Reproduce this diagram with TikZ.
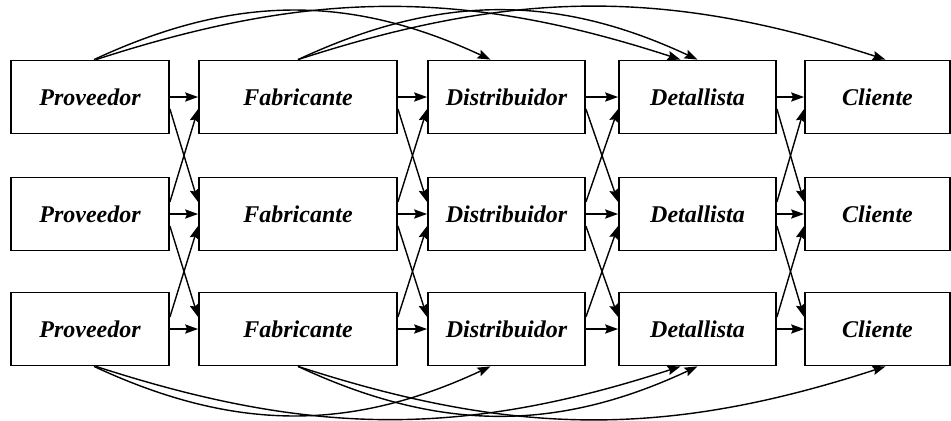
\documentclass[tikz,border=0pt]{standalone}
\usepackage{fontspec}
\setmainfont{Liberation Serif}
\usetikzlibrary{arrows.meta}
\tikzset{
  caja/.style={draw, line width=0.9pt, minimum height=36.5pt, inner sep=0pt,
    font=\bfseries\itshape\fontsize{12}{14}\selectfont},
  flecha/.style={line width=0.7pt, -{Stealth[length=6.5pt,width=4.6pt,inset=1pt]}}
}
\begin{document}
\begin{tikzpicture}[x=0.5pt,y=0.5pt]
        \useasboundingbox (0,0) rectangle (951,420);
        \foreach \r/\y in {1/323,2/206,3/91} {
            \node[caja, minimum width=79pt] (prov\r) at (90,\y) {Proveedor};
            \node[caja, minimum width=99pt] (fab\r) at (298,\y) {Fabricante};
            \node[caja, minimum width=78.5pt] (dist\r) at (506.5,\y) {Distribuidor};
            \node[caja, minimum width=78.5pt] (det\r) at (697.5,\y) {Detallista};
            \node[caja, minimum width=72.5pt] (cli\r) at (877.5,\y) {Cliente};
        }
        \foreach \a/\b in {prov/fab,fab/dist,dist/det,det/cli} {
            \foreach \r in {1,2,3} \draw[flecha] (\a\r.east) -- (\b\r.west);
            \foreach \r/\s in {1/2,2/3} {
                \draw[flecha] ([yshift=-6pt]\a\r.east) -- ([yshift=6pt]\b\s.west);
                \draw[flecha] ([yshift=6pt]\a\s.east) -- ([yshift=-6pt]\b\r.west);
            }
        }
        \draw[flecha] ([xshift=2pt]prov1.north) to[out=25,in=155] ([xshift=-8pt]dist1.north);
        \draw[flecha] ([xshift=3pt]prov1.north) to[out=18,in=162] ([xshift=-8.5pt]det1.north);
        \draw[flecha] (fab1.north) to[out=25,in=155] (det1.north);
        \draw[flecha] (fab1.north) to[out=18,in=162] ([xshift=4pt]cli1.north);
        \draw[flecha] ([xshift=2pt]prov3.south) to[out=-25,in=-155] ([xshift=-8pt]dist3.south);
        \draw[flecha] ([xshift=3pt]prov3.south) to[out=-18,in=-162] ([xshift=-8.5pt]det3.south);
        \draw[flecha] (fab3.south) to[out=-25,in=-155] (det3.south);
        \draw[flecha] (fab3.south) to[out=-18,in=-162] ([xshift=4pt]cli3.south);
\end{tikzpicture}
\end{document}
